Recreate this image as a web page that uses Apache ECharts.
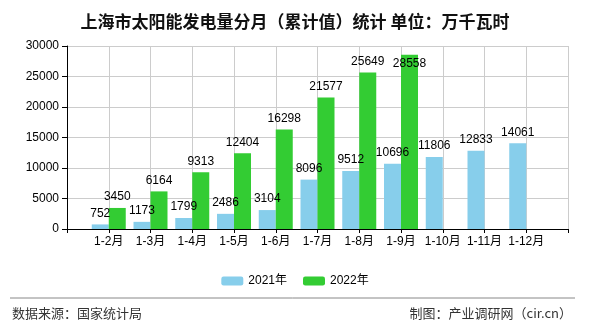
<!DOCTYPE html>
<html>
<head>
<meta charset="utf-8">
<script src="https://cdn.jsdelivr.net/npm/echarts@6/dist/echarts.min.js"></script>
<style>
  html, body { margin: 0; padding: 0; background: #fff; }
  #chart { width: 590px; height: 330px; }
</style>
</head>
<body>
<div id="chart"></div>
<script>
// Monthly cumulative solar generation, Shanghai (unit: 10,000 kWh)
const categories = ['1-2月', '1-3月', '1-4月', '1-5月', '1-6月', '1-7月', '1-8月', '1-9月', '1-10月', '1-11月', '1-12月'];
const values2021 = [752, 1173, 1799, 2486, 3104, 8096, 9512, 10696, 11806, 12833, 14061];
const values2022 = [3450, 6164, 9313, 12404, 16298, 21577, 25649, 28558];
const seriesNames = ['2021年', '2022年'];
const titleText = '上海市太阳能发电量分月（累计值）统计 单位：万千瓦时';
const sourceText = '数据来源：国家统计局';
const creditText = '制图：产业调研网（cir.cn）';

// Pad the axis with an empty slot on each side so bars sit on the tick marks
const axisCats = [''].concat(categories, ['']);
const pad = arr => [null].concat(arr, new Array(axisCats.length - 1 - arr.length).fill(null));

const FONT = '"Liberation Sans", "Noto Sans CJK SC", sans-serif';
const CJK = '"Noto Sans CJK SC", sans-serif';

const data2021 = pad(values2021);
const top2022 = Math.max(...values2022);
const data2022 = pad(values2022).map(v =>
  v === top2022 ? { value: v, label: { position: 'insideTop', distance: 3 } } : v
);

const chart = echarts.init(document.getElementById('chart'));
chart.setOption({
  animation: false,
  backgroundColor: '#fff',
  title: {
    text: titleText,
    left: 'center',
    top: 8,
    textStyle: { fontFamily: CJK, fontSize: 17, fontWeight: 'bold', color: '#111' }
  },
  legend: {
    data: seriesNames,
    left: 'center',
    top: 270,
    itemWidth: 22,
    itemHeight: 9,
    itemGap: 16,
    textStyle: { fontFamily: FONT, fontSize: 12, color: '#000' }
  },
  grid: { left: 67, right: 22, top: 46, bottom: 101 },
  xAxis: {
    type: 'category',
    data: axisCats,
    boundaryGap: false,
    axisLine: { lineStyle: { color: '#000', width: 1 } },
    axisTick: { show: true, length: 4, lineStyle: { color: '#000' } },
    axisLabel: { interval: 0, margin: 7, fontFamily: FONT, fontSize: 12, color: '#000' },
    splitLine: { show: true, lineStyle: { color: '#ccc' } }
  },
  yAxis: {
    type: 'value',
    min: 0,
    max: 30000,
    interval: 5000,
    axisLine: { show: true, lineStyle: { color: '#000', width: 1 } },
    axisTick: { show: true, length: 5, lineStyle: { color: '#000' } },
    axisLabel: { margin: 8, fontFamily: FONT, fontSize: 12, color: '#000', formatter: v => String(v) },
    splitLine: { show: true, lineStyle: { color: '#ccc' } }
  },
  series: [
    {
      name: seriesNames[0],
      type: 'bar',
      data: data2021,
      barWidth: 17,
      barGap: '0%',
      itemStyle: { color: '#87CEEB' },
      label: { show: true, position: 'top', distance: 5, fontFamily: FONT, fontSize: 12, color: '#000' }
    },
    {
      name: seriesNames[1],
      type: 'bar',
      data: data2022,
      barWidth: 17,
      barGap: '0%',
      itemStyle: { color: '#33CC33' },
      label: { show: true, position: 'top', distance: 5, fontFamily: FONT, fontSize: 12, color: '#000' }
    }
  ],
  graphic: [
    {
      type: 'line',
      shape: { x1: 10, y1: 298, x2: 575, y2: 298 },
      style: { stroke: '#888', lineWidth: 1 }
    },
    {
      type: 'text',
      left: 12,
      top: 307,
      style: { text: sourceText, font: '13px ' + CJK, fill: '#333' }
    },
    {
      type: 'text',
      right: 18,
      top: 307,
      style: { text: creditText, font: '13px ' + CJK, fill: '#333' }
    }
  ]
});
</script>
</body>
</html>
